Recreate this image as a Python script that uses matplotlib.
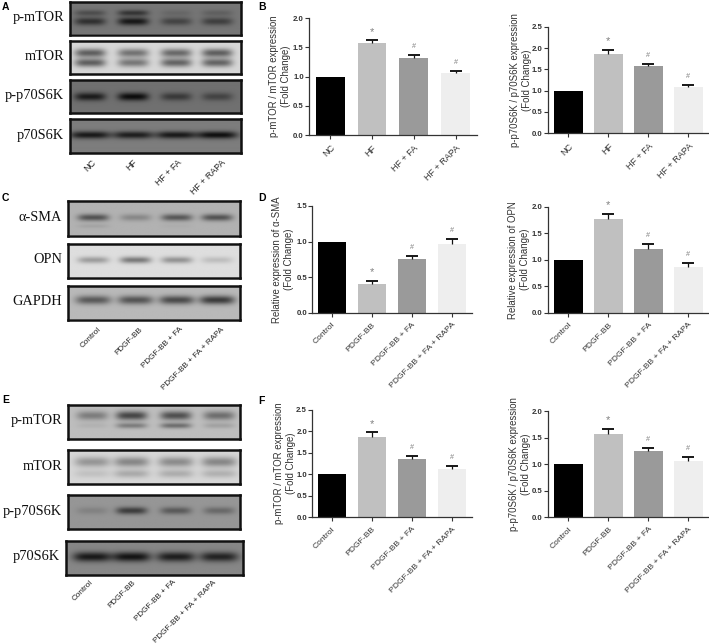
# Western blot panels and fold change bars
import numpy as np
import matplotlib
matplotlib.use('Agg')
import matplotlib.pyplot as plt

W, H = 709, 643
plt.rcParams['font.family'] = ['Liberation Sans', 'DejaVu Sans']

hf_groups = ['NC', 'HF', 'HF + FA', 'HF + RAPA']
pdgf_groups = ['Control', 'PDGF-BB', 'PDGF-BB + FA', 'PDGF-BB + FA + RAPA']
bar_colors = ['#000000', '#c0c0c0', '#9a9a9a', '#eeeeee']

# bar heights and tops of the error bars
b1_vals = [1.0, 1.57, 1.32, 1.06]
b1_tops = [1.0, 1.62, 1.37, 1.10]
b2_vals = [1.0, 1.87, 1.57, 1.08]
b2_tops = [1.0, 1.95, 1.62, 1.13]
d1_vals = [1.0, 0.41, 0.75, 0.97]
d1_tops = [1.0, 0.45, 0.80, 1.03]
d2_vals = [1.0, 1.76, 1.21, 0.87]
d2_tops = [1.0, 1.87, 1.29, 0.93]
f1_vals = [1.0, 1.87, 1.35, 1.12]
f1_tops = [1.0, 1.98, 1.42, 1.19]
f2_vals = [1.0, 1.57, 1.24, 1.06]
f2_tops = [1.0, 1.66, 1.30, 1.13]

# band darkness per lane, as (height in panel, thickness, darkness of 4 lanes)
a_ptor = [(0.36, 0.09, [40, 65, 15, 22]), (0.62, 0.12, [70, 95, 50, 55])]
a_tor = [(0.36, 0.13, [120, 100, 110, 120]), (0.66, 0.13, [120, 95, 115, 115])]
a_pp70 = [(0.52, 0.12, [85, 100, 55, 45])]
a_p70 = [(0.47, 0.11, [100, 95, 100, 110])]
c_sma = [(0.50, 0.10, [95, 42, 90, 95]), (0.75, 0.06, [14, 0, 5, 0])]
c_opn = [(0.50, 0.10, [65, 100, 75, 32])]
c_gapdh = [(0.44, 0.13, [95, 100, 110, 125])]
e_ptor = [(0.33, 0.13, [65, 120, 110, 80]), (0.62, 0.08, [12, 65, 80, 28])]
e_tor = [(0.35, 0.15, [65, 80, 75, 80]), (0.70, 0.12, [22, 45, 42, 38])]
e_pp70 = [(0.46, 0.11, [20, 90, 60, 45])]
e_p70 = [(0.48, 0.14, [110, 115, 105, 100])]


def px_axes(x0, y0, x1, y1):
    return fig.add_axes([x0 / W, 1 - y1 / H, (x1 - x0) / W, (y1 - y0) / H])


def blot(x0, y0, x1, y1, bg, bands, name, lane_x, lane_w=31, edge=1.8):
    ax = px_axes(x0, y0, x1, y1)
    xx, yy = np.meshgrid(np.arange(x0, x1, 0.5), np.linspace(0, 1, 80))
    img = np.full(xx.shape, float(bg))
    for pos, thick, dark in bands:
        for cx, d in zip(lane_x, dark):
            across = np.exp(-((xx - cx) / (lane_w / 2)) ** 4)
            img -= d * across * np.exp(-((yy - pos) / thick) ** 2)
    ax.imshow(np.clip(img, 0, 255), cmap='gray', vmin=0, vmax=255, aspect='auto',
              extent=[x0, x1, 1, 0], interpolation='bilinear')
    ax.set_xticks([])
    ax.set_yticks([])
    for s in ax.spines.values():
        s.set_linewidth(edge)
        s.set_color('#111111')
    fig.text((x0 - 6) / W, 1 - (y0 + (y1 - y0) * 0.5 - 1) / H, name, ha='right', va='center',
             family='Liberation Serif', fontsize=10.4, color='#111111')


def lane_labels(xs, y, names, size):
    for x, n in zip(xs, names):
        fig.text(x / W, 1 - y / H, n, rotation=45, ha='right', va='top', rotation_mode='anchor',
                 fontsize=size, color='#222222')


def bars(x_axis, x_end, y_zero, y_top, ymax, ticks, centers, vals, tops, names, label, marks,
         label_x, name_size=6.1, bw=28.5):
    ax = px_axes(x_axis, y_top, x_end, y_zero)
    ax.bar(centers, vals, width=bw, color=bar_colors)
    lows = [tops[i] - vals[i] for i in range(1, 4)]
    ax.errorbar(centers[1:], tops[1:], yerr=[lows, [0, 0, 0]], fmt='none', ecolor='#111111',
                elinewidth=0.9, capsize=0, zorder=3)
    ax.errorbar(centers[1:], tops[1:], yerr=0, fmt='none', ecolor='#111111',
                capsize=4.6, capthick=1.1, elinewidth=0, zorder=3)
    for i in range(1, 4):
        ax.annotate(marks[i - 1], (centers[i], tops[i]), xytext=(0, 6.2), textcoords='offset points',
                    ha='center', va='center', fontsize=8 if i == 1 else 5.2, color='#808080')
    ax.set_xlim(x_axis, x_end)
    ax.set_ylim(0, ymax)
    ax.set_yticks(ticks)
    ax.set_yticklabels(['%.1f' % t for t in ticks], fontsize=5.6, fontweight='bold', color='#333333')
    ax.set_xticks(centers)
    ax.set_xticklabels(names, rotation=45, ha='right', rotation_mode='anchor', fontsize=name_size,
                       color='#333333')
    ax.tick_params(axis='y', length=2.6, width=0.8, pad=1.2, color='#333333')
    ax.tick_params(axis='x', length=3.0, width=0.8, pad=3, color='#333333')
    ax.spines['top'].set_visible(False)
    ax.spines['right'].set_visible(False)
    ax.spines['left'].set_linewidth(0.9)
    ax.spines['bottom'].set_linewidth(0.9)
    ax.spines['left'].set_color('#333333')
    ax.spines['bottom'].set_color('#333333')
    fig.text(label_x / W, 1 - (y_top + y_zero) / 2 / H, label, rotation=90, ha='center', va='center',
             fontsize=6.9, color='#333333', multialignment='center', linespacing=1.25)


fig = plt.figure(figsize=(W / 100, H / 100), dpi=100, facecolor='white')

for letter, x, y in [('A', 2, 7), ('B', 258, 7), ('C', 2, 198), ('D', 258, 198), ('E', 2, 400), ('F', 258, 401)]:
    fig.text(x / W, 1 - y / H, letter, fontsize=7.5, fontweight='bold', ha='left', va='center')

a_lanes = [90, 133, 176, 217]
blot(70, 1.5, 241, 34.5, 118, a_ptor, 'p-mTOR', a_lanes)
blot(70, 41, 241, 74, 215, a_tor, 'mTOR', a_lanes)
blot(70, 79.5, 241, 113, 112, a_pp70, 'p-p70S6K', a_lanes)
blot(70, 119, 241, 153, 125, a_p70, 'p70S6K', a_lanes, lane_w=40)
lane_labels([91, 133, 177, 221], 158, hf_groups, 6.4)

c_lanes = [93, 135, 176, 216]
blot(68, 201, 240, 235.5, 178, c_sma, '\u03b1-SMA', c_lanes)
blot(68, 244, 240, 277.5, 222, c_opn, 'OPN', c_lanes)
blot(68, 286, 240, 319.5, 185, c_gapdh, 'GAPDH', c_lanes, lane_w=35)
lane_labels([98, 139, 179, 221], 326, pdgf_groups, 5.9)

e_lanes = [92, 131, 175, 218]
blot(68, 404.5, 240, 439, 190, e_ptor, 'p-mTOR', e_lanes)
blot(68, 450, 240, 484, 215, e_tor, 'mTOR', e_lanes, lane_w=35)
blot(68, 495, 240, 529, 150, e_pp70, 'p-p70S6K', e_lanes)
blot(66, 540.5, 243, 575, 135, e_p70, 'p70S6K', e_lanes, lane_w=38)
lane_labels([90, 132, 172, 213], 579, pdgf_groups, 5.9)

left_b = [330.3, 372, 413.7, 455.7]
left_d = [332, 372, 412, 452]
right = [568.3, 608.3, 648.3, 688.3]
t20 = [0.0, 0.5, 1.0, 1.5, 2.0]
t25 = [0.0, 0.5, 1.0, 1.5, 2.0, 2.5]
t15 = [0.0, 0.5, 1.0, 1.5]

bars(309, 477, 135, 18.3, 2.0, t20, left_b, b1_vals, b1_tops, hf_groups,
     'p-mTOR / mTOR expression\n(Fold Change)', ['*', '#', '#'], 280, name_size=6.5)
bars(547.7, 708, 133.3, 26.7, 2.5, t25, right, b2_vals, b2_tops, hf_groups,
     'p-p70S6K / p70S6K expression\n(Fold Change)', ['*', '#', '#'], 520.5, name_size=6.5)
bars(312.3, 472, 312.7, 206, 1.5, t15, left_d, d1_vals, d1_tops, pdgf_groups,
     'Relative expression of \u03b1-SMA\n(Fold Change)', ['*', '#', '#'], 283.5)
bars(547.7, 708, 312.7, 206.7, 2.0, t20, right, d2_vals, d2_tops, pdgf_groups,
     'Relative expression of OPN\n(Fold Change)', ['*', '#', '#'], 519.5)
bars(312.3, 472, 517.3, 410, 2.5, t25, left_d, f1_vals, f1_tops, pdgf_groups,
     'p-mTOR / mTOR expression\n(Fold Change)', ['*', '#', '#'], 284.5)
bars(547.7, 708, 517.3, 411, 2.0, t20, right, f2_vals, f2_tops, pdgf_groups,
     'p-p70S6K / p70S6K expression\n(Fold Change)', ['*', '#', '#'], 520)

fig.savefig('out.png', dpi=100)
